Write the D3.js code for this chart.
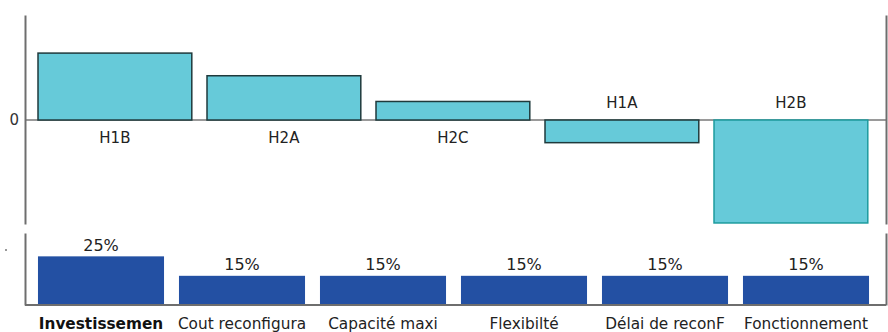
<!DOCTYPE html>
<html><head><meta charset="utf-8">
<script src="https://cdn.jsdelivr.net/npm/d3@7/dist/d3.min.js"></script>
<style>body{margin:0;background:#fff}svg{display:block}text{font-family:"DejaVu Sans",sans-serif}</style>
</head><body><svg id="c" width="888" height="332"></svg>
<script>
const hypotheses = ["H1B", "H2A", "H2C", "H1A", "H2B"];
const scores = [65, 43, 18, -22, -100];
const criteria = ["Investissemen", "Cout reconfigura", "Capacité maxi", "Flexibilté", "Délai de reconF", "Fonctionnement"];
const weights = [25, 15, 15, 15, 15, 15];
const yTicks = [0];

const svg = d3.select("#c");
const axisColor = "#6e6e6e";
const FF = '"DejaVu Sans",sans-serif';

// ---- top chart ----
const xTop = d3.scaleBand().domain(hypotheses).range([30.4, 875.4]).paddingInner(0.09).paddingOuter(0.045);
const yTop = d3.scaleLinear().domain([-101, 102]).range([224, 15]);

svg.append("line").attr("x1", 25).attr("x2", 886).attr("y1", yTop(0)).attr("y2", yTop(0))
  .attr("stroke", "#9a9a9a").attr("stroke-width", 2);

svg.append("g").selectAll("rect").data(hypotheses).join("rect")
  .attr("x", d => xTop(d))
  .attr("width", xTop.bandwidth())
  .attr("y", (d, i) => yTop(Math.max(0, scores[i])))
  .attr("height", (d, i) => Math.abs(yTop(scores[i]) - yTop(0)))
  .attr("fill", "#66cad9")
  .attr("stroke", (d, i) => i === 4 ? "#1d9b9e" : "#1f3a3c")
  .attr("stroke-width", 1.5);

svg.append("g").selectAll("text").data(hypotheses).join("text")
  .attr("x", d => xTop(d) + xTop.bandwidth() / 2)
  .attr("y", (d, i) => scores[i] >= 0 ? yTop(0) + 18 : yTop(0) - 17)
  .attr("dy", "0.35em")
  .attr("text-anchor", "middle")
  .attr("font-size", 15).attr("fill", "#222")
  .text(d => d);

const axL = svg.append("g").attr("transform", "translate(25,0)")
  .call(d3.axisLeft(yTop).tickValues(yTicks).tickSize(0).tickPadding(6));
axL.select(".domain").attr("stroke", axisColor).attr("stroke-width", 2);
axL.selectAll("text").attr("font-size", 15).attr("fill", "#333").attr("font-family", FF);

const axR = svg.append("g").attr("transform", "translate(886,0)")
  .call(d3.axisRight(yTop).tickValues([]).tickSize(0));
axR.select(".domain").attr("stroke", axisColor).attr("stroke-width", 2);

// ---- bottom chart ----
const xBot = d3.scaleBand().domain(criteria).range([30.5, 876.5]).paddingInner(0.106).paddingOuter(0.053);
const yBot = d3.scaleLinear().domain([0, 37]).range([305, 233]);

const defs = svg.append("defs");
criteria.forEach((c, i) => {
  defs.append("clipPath").attr("id", "clip" + i).append("rect")
    .attr("x", xBot(c) - 2).attr("y", 310).attr("width", xBot.bandwidth() + 4).attr("height", 22);
});

svg.append("g").selectAll("rect").data(criteria).join("rect")
  .attr("x", d => xBot(d))
  .attr("width", xBot.bandwidth())
  .attr("y", (d, i) => yBot(weights[i]))
  .attr("height", (d, i) => yBot(0) - yBot(weights[i]))
  .attr("fill", "#2350a3");

svg.append("g").selectAll("text").data(criteria).join("text")
  .attr("x", d => xBot(d) + xBot.bandwidth() / 2)
  .attr("y", (d, i) => yBot(weights[i]) - 11)
  .attr("dy", "0.35em")
  .attr("text-anchor", "middle")
  .attr("font-size", 16).attr("fill", "#222")
  .text((d, i) => weights[i] + "%");

svg.append("g").selectAll("text").data(criteria).join("text")
  .attr("clip-path", (d, i) => `url(#clip${i})`)
  .attr("x", d => xBot(d) + xBot.bandwidth() / 2)
  .attr("y", 324)
  .attr("dy", "0.35em")
  .attr("text-anchor", "middle")
  .attr("font-size", 15.3)
  .attr("font-weight", (d, i) => i === 0 ? "bold" : "normal")
  .attr("fill", (d, i) => i === 0 ? "#111" : "#222")
  .text(d => d);

const bL = svg.append("g").attr("transform", "translate(25,0)")
  .call(d3.axisLeft(yBot).tickValues([]).tickSize(0));
bL.select(".domain").attr("stroke", axisColor).attr("stroke-width", 2);
const bR = svg.append("g").attr("transform", "translate(886,0)")
  .call(d3.axisRight(yBot).tickValues([]).tickSize(0));
bR.select(".domain").attr("stroke", axisColor).attr("stroke-width", 2);
svg.append("line").attr("x1", 25).attr("x2", 886).attr("y1", yBot(0)).attr("y2", yBot(0))
  .attr("stroke", axisColor).attr("stroke-width", 2);

svg.append("circle").attr("cx", 6).attr("cy", 250).attr("r", 1).attr("fill", "#777");
</script></body></html>
